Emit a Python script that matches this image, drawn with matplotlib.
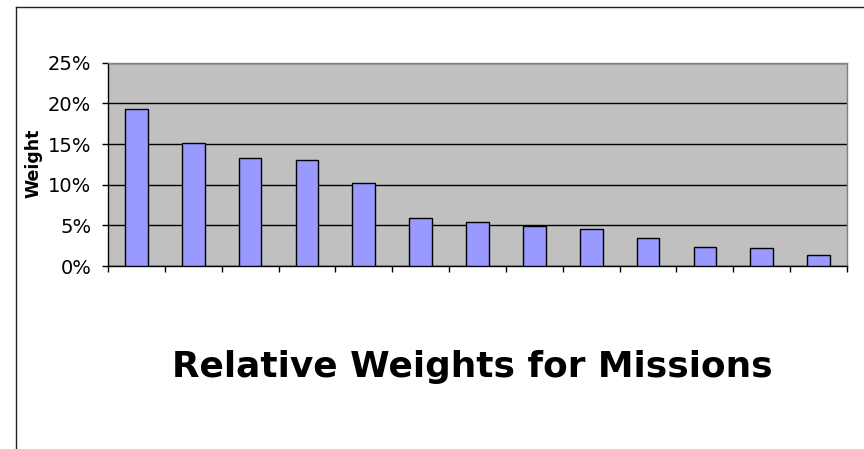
import matplotlib
matplotlib.use("Agg")
import matplotlib.pyplot as plt
from matplotlib.lines import Line2D
from matplotlib.ticker import FuncFormatter, FixedLocator
import numpy as np

# Relative weight of each mission (fraction of total), sorted high to low
missions = list(range(1, 14))
weights = [0.193, 0.151, 0.133, 0.130, 0.102, 0.059, 0.054, 0.049,
           0.045, 0.034, 0.023, 0.022, 0.014]
y_ticks = [0.0, 0.05, 0.10, 0.15, 0.20, 0.25]

plt.rcParams["font.family"] = ["DejaVu Sans"]

fig = plt.figure(figsize=(8.64, 4.49), dpi=100)
fig.patch.set_facecolor("white")

ax = fig.add_axes([108 / 864, 1 - 266 / 449, (847 - 108) / 864, (266 - 62.7) / 449])
ax.set_facecolor("#C0C0C0")

x = np.arange(len(missions))
ax.bar(x, weights, width=0.4, color="#9999FF", edgecolor="black",
       linewidth=1.0, zorder=3)

ax.set_xlim(-0.5, len(missions) - 0.5)
ax.set_ylim(0, 0.25)

ax.yaxis.set_major_locator(FixedLocator(y_ticks))
ax.yaxis.set_major_formatter(FuncFormatter(lambda v, _: f"{v * 100:.0f}%"))
ax.grid(axis="y", color="black", linewidth=1.0, zorder=1)
ax.set_axisbelow(True)

# Category-boundary ticks below the x axis, no labels
ax.xaxis.set_major_locator(FixedLocator(np.arange(-0.5, len(missions), 1.0)))
ax.set_xticklabels([])
ax.tick_params(axis="x", direction="out", length=4, width=1, color="black")
ax.tick_params(axis="y", direction="out", length=4, width=1, color="black",
               labelsize=14, pad=8)

for side in ("top", "right"):
    ax.spines[side].set_color("#808080")
    ax.spines[side].set_linewidth(1.0)
for side in ("left", "bottom"):
    ax.spines[side].set_color("black")
    ax.spines[side].set_linewidth(1.0)

fig.text(33 / 864, 1 - 163.5 / 449, "Weight", rotation=90, fontsize=12.5,
         fontweight="bold", ha="center", va="center")

fig.text(472.5 / 864, 1 - 376.7 / 449, "Relative Weights for Missions",
         fontsize=25.8, fontweight="bold", ha="center", va="baseline")

# Outer frame edges (left and top)
fig.add_artist(Line2D([16 / 864, 16 / 864], [0, 1 - 7 / 449],
                      transform=fig.transFigure, color="#222222", linewidth=1.0))
fig.add_artist(Line2D([16 / 864, 1], [1 - 7 / 449, 1 - 7 / 449],
                      transform=fig.transFigure, color="#222222", linewidth=1.0))

fig.savefig("out.png", dpi=100)
